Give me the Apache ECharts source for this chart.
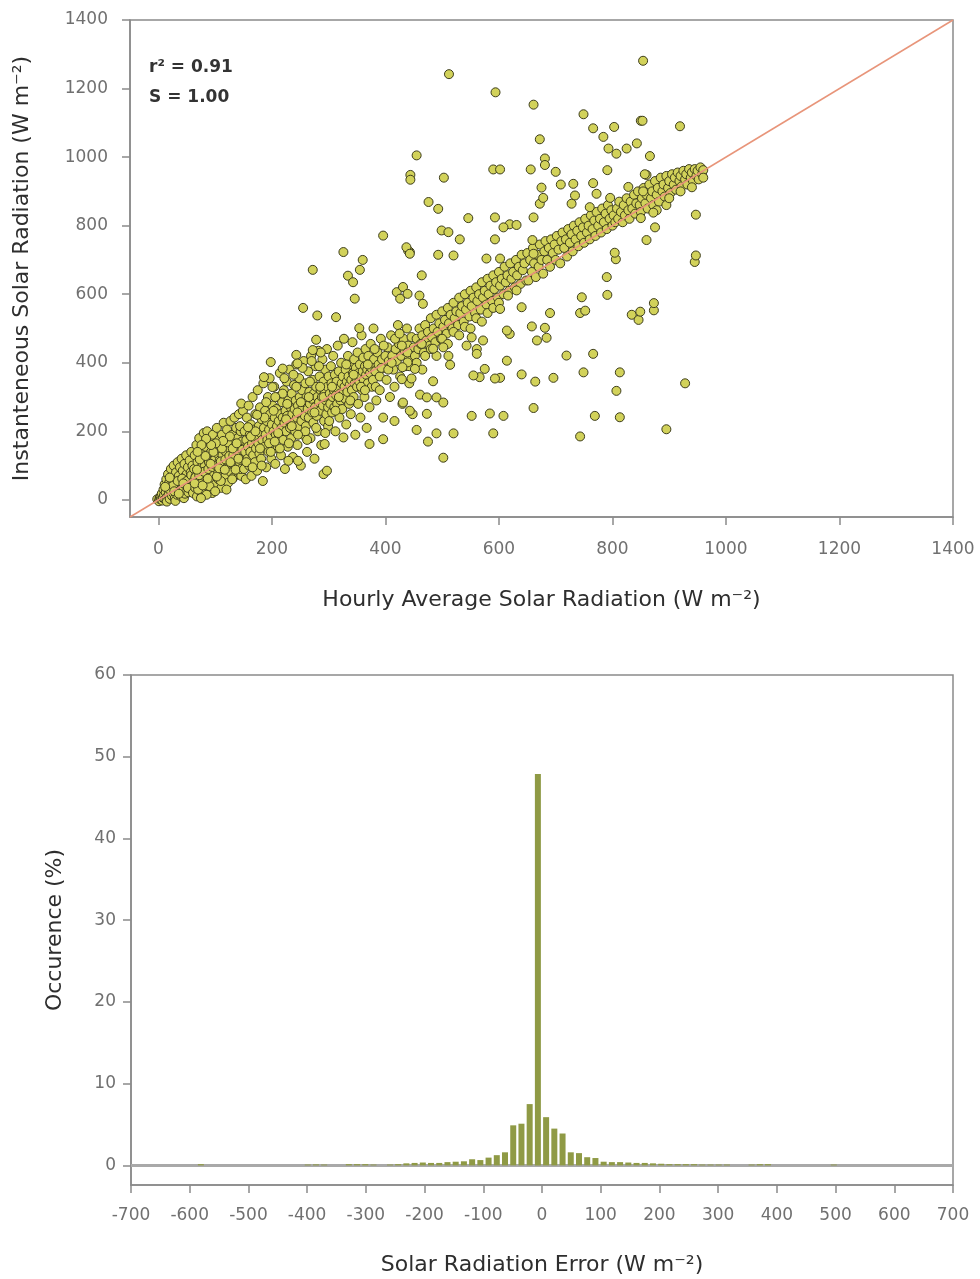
<!DOCTYPE html>
<html><head><meta charset="utf-8">
<script src="https://cdn.jsdelivr.net/npm/echarts@6/dist/echarts.min.js"></script>
<style>html,body{margin:0;padding:0;background:#fff}#chart{width:980px;height:1279px}</style>
</head><body><div id="chart"></div>
<script>
// ---------- annotation ----------
const rSquared = '0.91';
const slope = '1.00';

// ---------- tick labels ----------
const scatterTicks = [0, 200, 400, 600, 800, 1000, 1200, 1400];
const occurrenceTicks = [0, 10, 20, 30, 40, 50, 60];

// ---------- reference lines ----------
const oneToOneLine = [[-50, -50], [1400, 1400]];
const zeroLine = [[-700, 0], [700, 0]];

// ---------- histogram (bin width 14 W m-2) ----------
const errorBinCenters = [-581, -399, -385, -371, -329, -315, -301, -287, -259, -245, -231, -217, -203, -189, -175, -161, -147, -133, -119, -105, -91, -77, -63, -49, -35, -21, -7, 7, 21, 35, 49, 63, 77, 91, 105, 119, 133, 147, 161, 175, 189, 203, 217, 231, 245, 259, 273, 287, 301, 315, 357, 371, 385, 497];
const occurrencePct = [0.15, 0.1, 0.12, 0.1, 0.15, 0.15, 0.15, 0.1, 0.1, 0.15, 0.25, 0.3, 0.35, 0.3, 0.3, 0.4, 0.45, 0.5, 0.75, 0.65, 0.95, 1.25, 1.6, 4.9, 5.1, 7.5, 47.9, 5.9, 4.5, 3.9, 1.6, 1.5, 1.0, 0.9, 0.45, 0.4, 0.4, 0.35, 0.3, 0.3, 0.25, 0.2, 0.15, 0.15, 0.15, 0.15, 0.1, 0.1, 0.1, 0.1, 0.1, 0.15, 0.15, 0.1];

// ---------- scatter: [hourly average, instantaneous] ----------
const nearOrigin = [[-2,2],[1,-4],[2,3],[3,8],[4,10],[5,1],[6,18],[7,-2],[8,6],[9,30],[10,14],[11,45],[12,2],[13,22],[14,60],[15,8],[15,-5],[16,35],[17,75],[18,15],[19,50],[20,3],[21,28],[22,90],[23,40],[24,12],[25,65],[26,20],[27,100],[28,48],[29,5],[30,32],[30,-3],[31,80],[32,55],[33,15],[34,110],[35,40],[36,70],[37,25],[38,95],[39,58],[40,10],[41,120],[42,45],[43,85],[44,30],[45,65],[45,5],[46,105],[47,18],[48,50],[49,130],[50,75],[51,38],[52,95],[53,22],[54,60],[55,115],[56,42],[57,80],[58,140],[59,30],[60,100],[18,32],[26,42],[34,55],[42,62],[50,55],[12,38],[20,65],[28,25],[36,18],[44,48],[52,35],[58,72]];

const lowBand = [[61,20],[62,55],[63,90],[64,130],[65,35],[66,70],[67,160],[68,10],[69,110],[70,45],[71,85],[72,180],[73,60],[74,25],[75,140],[76,95],[77,50],[78,120],[79,75],[80,195],[81,30],[82,100],[83,155],[84,65],[85,85],[86,200],[87,40],[88,125],[89,110],[90,70],[91,170],[92,55],[93,140],[94,90],[95,20],[96,190],[97,105],[98,75],[99,160],[100,120],[101,45],[102,95],[103,210],[104,135],[105,80],[106,60],[107,175],[108,115],[109,150],[110,100],[111,35],[112,190],[113,130],[114,85],[115,225],[116,110],[117,160],[118,70],[119,140],[120,95],[121,205],[122,120],[123,50],[124,175],[125,105],[126,150],[127,230],[128,80],[129,130],[130,190],[131,115],[132,65],[133,165],[134,240],[135,100],[136,145],[137,210],[138,125],[139,85],[140,180],[141,155],[142,250],[143,110],[144,135],[145,200],[146,70],[147,170],[148,120],[149,260],[150,150],[65,65],[72,72],[80,82],[88,90],[95,96],[102,100],[110,112],[118,118],[125,128],[132,130],[140,142],[148,146],[70,30],[90,40],[110,55],[130,60],[145,90],[85,15],[100,25],[120,30],[75,5],[146,281]];

const lowBandExtra = [[64,48],[68,88],[73,118],[78,42],[83,128],[87,62],[92,105],[97,140],[103,68],[107,92],[112,150],[117,88],[122,168],[127,110],[131,150],[136,88],[141,120],[144,215],[138,165],[126,185],[114,172],[101,165],[93,160],[84,178],[76,160],[69,140]];

const midBand = [[151,90],[152,200],[153,140],[154,60],[155,175],[156,240],[157,120],[158,155],[159,275],[160,100],[161,190],[162,140],[163,220],[164,70],[165,165],[166,300],[167,130],[168,205],[169,180],[170,110],[171,250],[172,150],[173,185],[174,85],[175,320],[176,165],[177,215],[178,135],[179,270],[180,195],[181,120],[182,235],[183,175],[184,55],[185,340],[186,210],[187,155],[188,260],[189,190],[190,95],[191,230],[192,175],[193,300],[194,140],[195,205],[196,355],[197,250],[198,185],[199,120],[200,220],[201,275],[202,160],[203,200],[204,330],[205,240],[206,105],[207,190],[208,265],[209,215],[210,150],[211,300],[212,230],[213,185],[214,370],[215,250],[216,130],[217,210],[218,285],[219,240],[220,175],[221,320],[222,225],[223,90],[224,260],[225,200],[226,345],[227,245],[228,155],[229,290],[230,230],[231,380],[232,210],[233,270],[234,180],[235,310],[236,250],[237,125],[238,225],[239,335],[240,265],[241,200],[242,290],[243,395],[244,240],[245,160],[246,275],[247,215],[248,355],[249,300],[250,250],[251,100],[252,230],[253,320],[254,270],[255,190],[256,405],[257,285],[258,245],[259,340],[260,215],[261,300],[262,140],[263,265],[264,375],[265,240],[266,315],[267,280],[268,180],[269,420],[270,295],[271,255],[272,350],[273,225],[274,310],[275,120],[276,270],[277,390],[278,330],[279,245],[280,300],[281,200],[282,435],[283,285],[284,360],[285,260],[286,320],[287,160],[288,300],[289,410],[290,275],[291,345],[292,230],[293,310],[294,380],[295,290],[296,250],[297,440],[298,330],[299,270],[300,360]];

const midBandExtra = [[155,110],[163,185],[171,200],[179,150],[187,240],[195,165],[203,260],[211,195],[219,310],[227,280],[235,215],[243,330],[251,285],[259,200],[267,345],[275,255],[283,390],[291,300],[299,215],[158,212],[174,248],[190,285],[206,300],[222,355],[238,365],[254,385],[270,405],[286,430],[166,95],[182,100],[198,140],[214,150],[230,165],[246,190],[262,175],[278,210],[294,195],[205,170],[225,235],[245,255],[265,300],[285,330]];

const band300 = [[301,230],[302,310],[303,280],[304,390],[305,340],[306,255],[307,300],[308,420],[309,320],[310,270],[311,365],[312,200],[313,305],[314,345],[315,280],[316,450],[317,325],[318,375],[319,240],[320,310],[321,290],[322,400],[323,340],[324,265],[325,360],[326,310],[327,470],[328,330],[329,295],[330,380],[331,220],[332,345],[333,315],[334,420],[335,360],[336,280],[337,335],[338,395],[339,250],[340,350],[341,320],[342,460],[343,370],[344,300],[345,410],[346,340],[347,190],[348,385],[349,355],[350,330],[351,430],[352,280],[353,370],[354,345],[355,395],[356,240],[357,360],[358,480],[359,320],[360,375],[361,415],[362,350],[363,300],[364,390],[365,440],[366,365],[367,210],[368,380],[369,340],[370,420],[371,395],[372,270],[373,370],[374,455],[375,385],[376,330],[377,400],[378,350],[379,500],[380,410],[382,375],[384,290],[386,430],[388,395],[390,360],[392,470],[394,410],[396,240],[398,385],[400,420],[402,350],[404,445],[406,405],[408,300],[410,480],[412,420],[414,380],[416,230],[418,440],[420,405],[422,510],[424,455],[426,360],[428,420],[430,280],[432,470],[434,435],[436,390],[438,500],[440,450],[442,340],[444,420],[446,475],[448,250],[450,445]];

const band300Extra = [[306,330],[318,300],[331,395],[344,365],[357,330],[369,395],[381,440],[393,385],[405,380],[417,470],[429,450],[441,410],[383,330],[397,450],[411,400],[425,485],[439,430],[312,260],[338,290],[364,320],[390,320],[416,330],[442,390]];

const band450 = [[452,420],[455,470],[458,440],[460,500],[462,455],[465,480],[468,430],[470,510],[472,465],[475,490],[478,450],[480,530],[482,475],[485,500],[488,460],[490,540],[492,490],[495,515],[498,470],[500,550],[502,505],[505,525],[508,485],[510,560],[512,515],[515,540],[518,500],[520,575],[522,530],[525,550],[528,510],[530,590],[532,545],[535,565],[538,520],[540,600],[542,555],[545,575],[548,535],[550,610],[552,565],[555,590],[558,545],[560,620],[562,580],[565,600],[568,555],[570,635],[572,590],[575,610],[578,570],[580,645],[582,600],[585,625],[588,580],[590,655],[592,615],[595,635],[598,590],[600,665],[602,625],[605,645],[608,600],[610,680],[612,635],[615,655],[618,610],[620,690],[622,645],[625,665],[628,620],[630,700],[632,655],[635,680],[638,630],[640,715],[642,670],[645,690],[648,640],[650,720],[455,400],[465,380],[470,420],[480,440],[490,420],[500,470],[510,455],[520,490],[530,480],[540,505],[550,500],[560,530],[570,520],[580,545],[590,560],[600,575]];

const band650 = [[652,640],[655,700],[658,665],[660,735],[662,690],[665,650],[668,715],[670,680],[672,745],[675,700],[678,660],[680,725],[682,755],[685,700],[688,735],[690,680],[692,760],[695,720],[698,745],[700,700],[702,770],[705,730],[708,690],[710,755],[712,780],[715,735],[718,760],[720,710],[722,790],[725,750],[728,775],[730,725],[732,800],[735,760],[738,785],[740,740],[742,810],[745,770],[748,795],[750,750],[752,820],[755,780],[758,800],[760,760],[762,830],[765,790],[768,815],[770,770],[772,840],[775,800],[778,820],[780,780],[782,850],[785,810],[788,835],[790,790],[792,860],[795,820],[798,845],[800,800]];

const highCluster = [[802,830],[805,810],[808,850],[810,820],[812,870],[815,840],[818,810],[820,860],[822,830],[825,880],[828,845],[830,820],[832,870],[835,850],[838,890],[840,835],[842,865],[845,900],[848,860],[850,840],[852,880],[855,910],[858,865],[860,890],[862,850],[865,920],[868,880],[870,900],[872,860],[875,930],[878,890],[880,910],[882,870],[885,940],[888,900],[890,920],[892,885],[895,945],[898,910],[900,930],[902,895],[905,950],[908,920],[910,940],[912,905],[915,955],[918,930],[920,945],[922,915],[925,960],[928,935],[930,950],[932,920],[935,965],[938,940],[940,955],[942,930],[945,965],[948,945],[950,960],[952,935],[955,970],[958,950],[960,962],[878,845],[895,860],[872,838],[850,822],[900,880],[920,900],[940,912],[960,940]];

const outliers = [[272,671],[255,560],[280,538],[313,533],[278,467],[272,437],[243,423],[245,398],[198,402],[219,383],[186,358],[201,329],[291,75],[297,85],[293,163],[246,114],[229,114],[326,182],[372,163],[396,177],
[326,723],[360,700],[355,671],[334,654],[343,635],[346,587],[354,501],[420,606],[426,587],[431,621],[439,601],[460,596],[466,572],[443,723],[464,655],[396,771],[440,727],[437,737],[455,1005],[444,948],[444,934],[429,352],[446,354],[439,401],[452,382],[430,387],[431,284],[443,260],[455,204],
[512,1242],[594,1189],[661,1153],[672,1052],[503,940],[590,964],[602,964],[656,964],[476,869],[493,849],[546,822],[593,824],[619,804],[631,802],[608,795],[661,824],[672,864],[675,911],[678,881],[499,786],[511,781],[531,760],[593,760],[578,704],[602,704],[659,758],[661,718],[493,715],[520,713],[443,718],[616,596],[602,557],[640,562],[631,611],[543,450],[561,440],[572,465],[552,474],[502,445],[484,441],[464,455],[514,394],[511,420],[561,426],[575,382],[566,358],[555,363],[602,356],[593,354],[484,346],[461,307],[473,299],[490,299],[502,284],[473,251],[552,245],[584,252],[608,245],[590,194],[520,194],[490,194],[475,170],[502,123],[614,406],[640,366],[664,345],[696,356],[661,268],[658,506],[681,502],[619,484],[614,494],[667,465],[684,473],[690,545],[719,421],[749,372],[766,426],[813,372],[807,318],[769,245],[813,241],[743,185],[895,206],[928,340],[746,591],[743,545],[752,552],[790,650],[791,598],[806,702],[834,540],[846,525],[873,553],[945,694],[849,549],[873,574],
[749,1125],[766,1084],[803,1088],[784,1059],[793,1025],[807,1010],[825,1025],[843,1040],[850,1106],[866,1003],[700,957],[681,996],[681,977],[791,962],[709,920],[731,922],[734,888],[728,864],[766,924],[772,893],[760,854],[796,881],[828,913],[854,900],[860,948],[857,950],[875,795],[860,758],[804,721],[947,713],[947,832],[919,1090],[854,1281],[853,1106]];

const scatterPoints = [].concat(nearOrigin, lowBand, lowBandExtra, midBand, midBandExtra, band300, band300Extra, band450, band650, highCluster, outliers);

// ---------- chart ----------
const chart = echarts.init(document.getElementById('chart'), null, {renderer: 'canvas'});
const plainNumber = (v) => String(v);
const tickFont = {fontFamily: 'DejaVu Sans', fontSize: 17, color: '#707070'};
const nameFont = {fontFamily: 'DejaVu Sans', fontSize: 22, color: '#2e2e2e'};
const lineStyle = {color: '#8a8a8a', width: 1.5};

const option = {
  animation: false,
  backgroundColor: '#ffffff',
  title: {
    text: 'r² = ' + rSquared + '\nS = ' + slope,
    left: 144, top: 48,
    textStyle: {fontFamily: 'DejaVu Sans', fontWeight: 'bold', fontSize: 17, color: '#333333', lineHeight: 30}
  },
  grid: [
    {left: 130, right: 27, top: 20, height: 497, show: true, borderColor: '#8a8a8a', borderWidth: 1.5, backgroundColor: 'transparent'},
    {left: 131, right: 27, top: 675, height: 510, show: true, borderColor: '#8a8a8a', borderWidth: 1.5, backgroundColor: 'transparent'}
  ],
  xAxis: [
    {
      gridIndex: 0, type: 'value', min: -50, max: 1400,
      name: 'Hourly Average Solar Radiation (W m⁻²)', nameLocation: 'middle', nameGap: 72, nameTextStyle: nameFont,
      axisLine: {show: true, onZero: false, lineStyle: lineStyle},
      axisTick: {show: true, inside: false, length: 8, customValues: scatterTicks, lineStyle: lineStyle},
      axisLabel: {customValues: scatterTicks, margin: 24, formatter: plainNumber, ...tickFont},
      splitLine: {show: false}
    },
    {
      gridIndex: 1, type: 'value', min: -700, max: 700, interval: 100,
      name: 'Solar Radiation Error (W m⁻²)', nameLocation: 'middle', nameGap: 69, nameTextStyle: nameFont,
      axisLine: {show: true, onZero: false, lineStyle: lineStyle},
      axisTick: {show: true, inside: false, length: 8, lineStyle: lineStyle},
      axisLabel: {margin: 22, showMinLabel: true, showMaxLabel: true, formatter: plainNumber, ...tickFont},
      splitLine: {show: false}
    }
  ],
  yAxis: [
    {
      gridIndex: 0, type: 'value', min: -50, max: 1400,
      name: 'Instanteneous Solar Radiation (W m⁻²)', nameLocation: 'middle', nameGap: 97, nameTextStyle: nameFont,
      axisLine: {show: true, onZero: false, lineStyle: lineStyle},
      axisTick: {show: true, inside: false, length: 8, customValues: scatterTicks, lineStyle: lineStyle},
      axisLabel: {customValues: scatterTicks, margin: 22, formatter: plainNumber, ...tickFont},
      splitLine: {show: false}
    },
    {
      gridIndex: 1, type: 'value', min: -2.4, max: 60,
      name: 'Occurence (%)', nameLocation: 'middle', nameGap: 65, nameTextStyle: nameFont,
      axisLine: {show: true, onZero: false, lineStyle: lineStyle},
      axisTick: {show: true, inside: false, length: 8, customValues: occurrenceTicks, lineStyle: lineStyle},
      axisLabel: {customValues: occurrenceTicks, margin: 15, formatter: plainNumber, ...tickFont},
      splitLine: {show: false}
    }
  ],
  series: [
    {
      type: 'scatter', xAxisIndex: 0, yAxisIndex: 0,
      data: scatterPoints, symbol: 'circle', symbolSize: 9,
      itemStyle: {color: '#d2d25a', borderColor: '#3d3d1c', borderWidth: 1, opacity: 1},
      z: 2
    },
    {
      type: 'line', xAxisIndex: 0, yAxisIndex: 0, data: oneToOneLine,
      symbol: 'none', lineStyle: {color: '#e8957a', width: 1.5}, z: 3, silent: true
    },
    {
      type: 'line', xAxisIndex: 1, yAxisIndex: 1, data: zeroLine,
      symbol: 'none', lineStyle: {color: '#a9a9a9', width: 3}, z: 1, silent: true
    },
    {
      type: 'bar', xAxisIndex: 1, yAxisIndex: 1,
      data: errorBinCenters.map((c, i) => [c, occurrencePct[i]]),
      barWidth: 6, itemStyle: {color: '#8f9a45'}, z: 3
    }
  ]
};
chart.setOption(option);
</script>
</body></html>
